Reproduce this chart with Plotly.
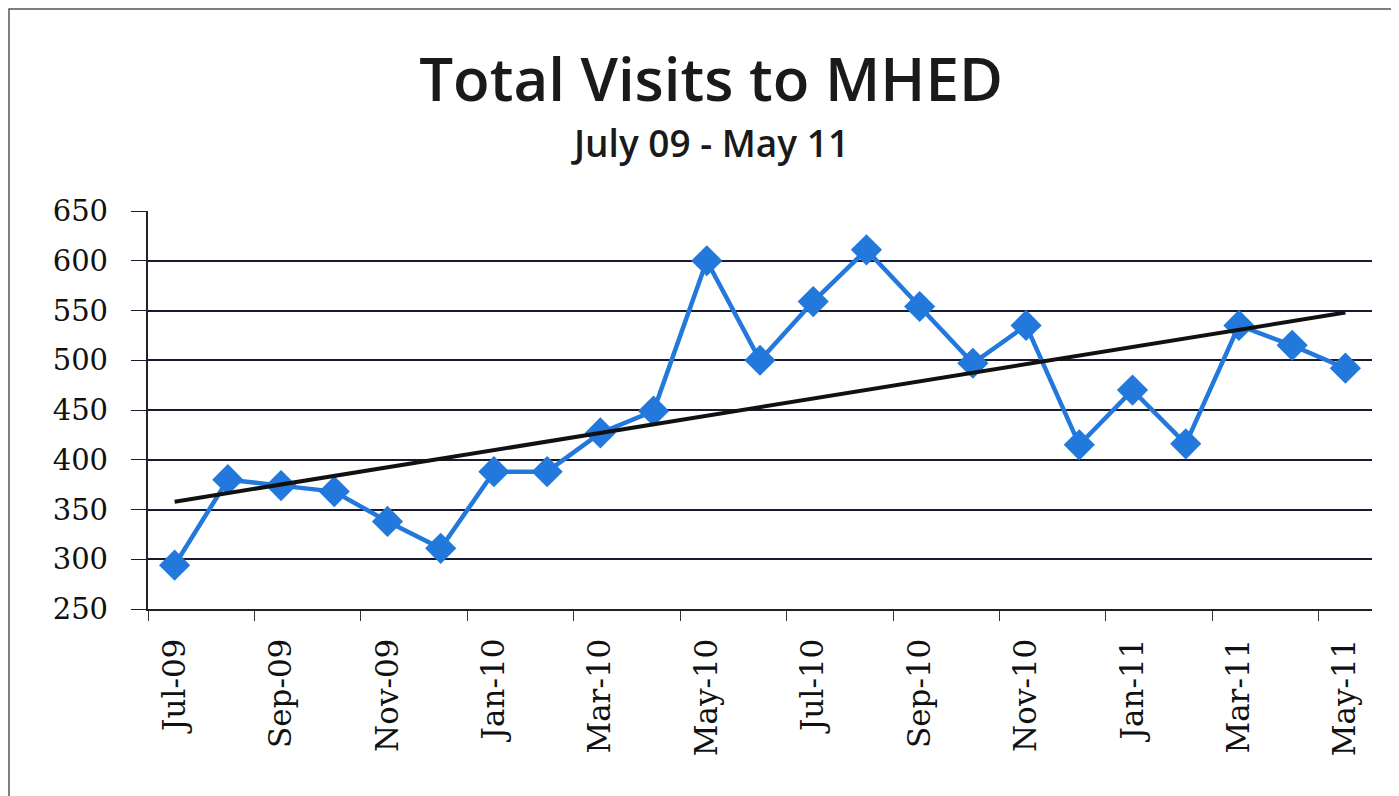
import numpy as np
import plotly.graph_objects as go

months = ["Jul-09", "Aug-09", "Sep-09", "Oct-09", "Nov-09", "Dec-09",
          "Jan-10", "Feb-10", "Mar-10", "Apr-10", "May-10", "Jun-10",
          "Jul-10", "Aug-10", "Sep-10", "Oct-10", "Nov-10", "Dec-10",
          "Jan-11", "Feb-11", "Mar-11", "Apr-11", "May-11"]
visits = [294, 380, 374, 368, 338, 311, 388, 388, 427, 449, 600, 500,
          559, 611, 554, 497, 535, 415, 470, 416, 535, 515, 492]

title_text = "Total Visits to MHED"
subtitle_text = "July 09 - May 11"

# linear trendline (least squares on month index)
idx = np.arange(len(visits))
slope, intercept = np.polyfit(idx, visits, 1)
trend_x = [months[0], months[-1]]
trend_y = [intercept, intercept + slope * idx[-1]]

OFF = 8  # page body offset
W, H = 1399 - OFF, 796 - OFF
L, T = 148 - OFF, 211 - OFF
pw, ph = 1224, 398
R, B = W - L - pw, H - T - ph


def px_x(p):
    return (p - OFF - L) / pw


def px_y(p):
    return (T + ph - (p - OFF)) / ph


fig = go.Figure()
fig.add_trace(go.Scatter(
    x=months, y=visits, mode="lines+markers",
    line=dict(color="#2378DC", width=4.5),
    marker=dict(symbol="diamond", size=24, color="#2378DC"),
    showlegend=False,
))
fig.add_trace(go.Scatter(
    x=trend_x, y=trend_y, mode="lines",
    line=dict(color="#111111", width=4),
    showlegend=False,
))

fig.update_layout(
    width=W, height=H,
    margin=dict(l=L, r=R, t=T, b=B),
    paper_bgcolor="white", plot_bgcolor="white",
    title=dict(text=title_text, x=px_x(711) * pw / W + L / W, xanchor="center",
               y=1 - (80 - OFF) / H, yanchor="middle",
               font=dict(family="Open Sans", size=60, color="#1a1a1a", weight=600)),
    annotations=[dict(text=subtitle_text, xref="paper", yref="paper",
                      x=px_x(710), y=px_y(143), xanchor="center", yanchor="middle",
                      showarrow=False,
                      font=dict(family="Open Sans", size=37, color="#1a1a1a", weight=600))],
    shapes=[dict(type="rect", xref="paper", yref="paper",
                 x0=px_x(9), x1=px_x(1420), y0=px_y(800), y1=px_y(9),
                 line=dict(color="#555555", width=1.5), layer="below")],
)
fig.update_xaxes(
    type="category", range=[-0.5, len(months) - 0.5],
    dtick=2, tickson="boundaries", ticks="outside", ticklen=10,
    tickcolor="#333333", tickangle=-90, showgrid=False,
    showline=True, linecolor="#222222", linewidth=1.5,
    ticksuffix="\u2002",
    tickfont=dict(family="DejaVu Serif", size=31, color="#111111"),
)
fig.update_yaxes(
    range=[250, 650], dtick=50, tick0=250,
    showgrid=True, gridcolor="#1a1a2e", gridwidth=1.5,
    ticks="outside", ticklen=15, tickcolor="#1a1a2e",
    showline=True, linecolor="#222222", linewidth=1.5,
    zeroline=False, ticksuffix="\u2002\u200a",
    tickfont=dict(family="DejaVu Serif", size=29, color="#111111"),
)

fig.write_html("out.html")
